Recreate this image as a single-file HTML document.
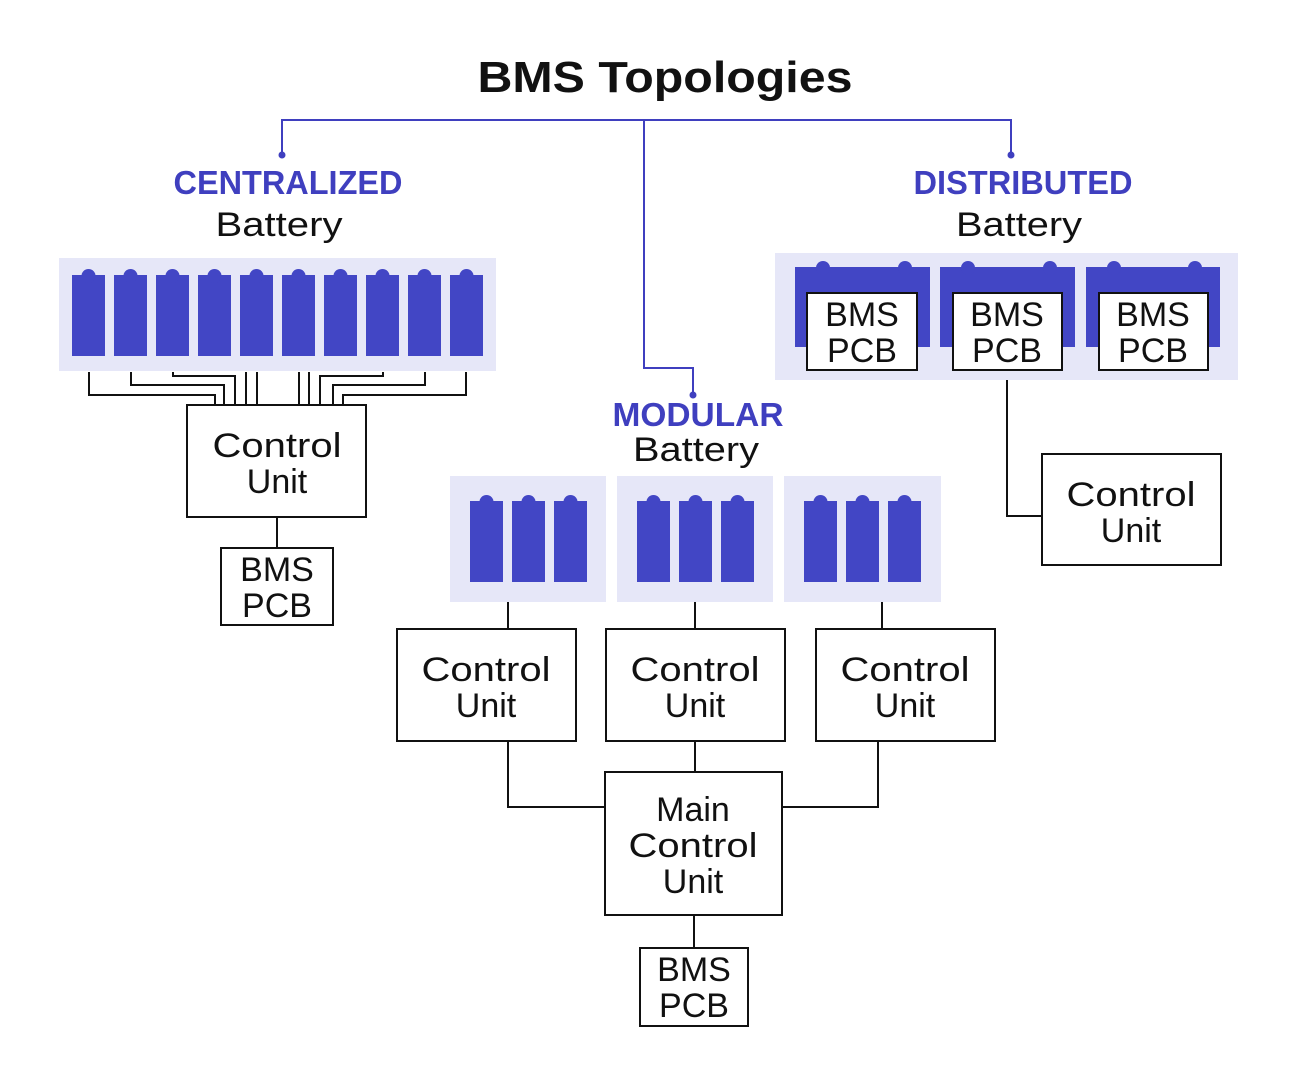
<!DOCTYPE html>
<html><head><meta charset="utf-8"><style>
html,body{margin:0;padding:0;background:#fff;}
svg{display:block;}
text{font-family:"Liberation Sans",sans-serif;}
.t{font-size:34px;fill:#111;text-anchor:middle;}
.b{font-size:33px;fill:#3f3fbf;text-anchor:middle;font-weight:bold;}
.box{fill:#fff;stroke:#111;stroke-width:2;}
.w{fill:none;stroke:#111;stroke-width:2;}
.bl{fill:none;stroke:#3f3fbf;stroke-width:2;}
</style></head><body>
<svg width="1295" height="1080" viewBox="0 0 1295 1080" xmlns="http://www.w3.org/2000/svg">
<defs>
<g id="cell"><rect x="0" y="0" width="33" height="81" fill="#4246c5"/><circle cx="16.5" cy="1" r="7" fill="#4246c5"/></g>
</defs>
<text x="665" y="92" font-size="44" font-weight="bold" text-anchor="middle" textLength="375" lengthAdjust="spacingAndGlyphs" fill="#111">BMS Topologies</text>
<path class="bl" d="M282 155V120H1011V155M644 120V368H693V395"/>
<circle cx="282" cy="155" r="3.5" fill="#3f3fbf"/><circle cx="1011" cy="155" r="3.5" fill="#3f3fbf"/><circle cx="693" cy="395" r="3.5" fill="#3f3fbf"/>
<text class="b" x="288" y="194" textLength="229" lengthAdjust="spacingAndGlyphs">CENTRALIZED</text>
<text class="t" x="279" y="236" textLength="127" lengthAdjust="spacingAndGlyphs">Battery</text>
<text class="b" x="1023" y="194" textLength="219" lengthAdjust="spacingAndGlyphs">DISTRIBUTED</text>
<text class="t" x="1019" y="236" textLength="126" lengthAdjust="spacingAndGlyphs">Battery</text>
<text class="b" x="698" y="426" textLength="171" lengthAdjust="spacingAndGlyphs">MODULAR</text>
<text class="t" x="696" y="461" textLength="126" lengthAdjust="spacingAndGlyphs">Battery</text>

<rect x="59" y="258" width="437" height="113" fill="#e6e7f8"/>
<use href="#cell" x="72" y="275"/><use href="#cell" x="114" y="275"/><use href="#cell" x="156" y="275"/><use href="#cell" x="198" y="275"/><use href="#cell" x="240" y="275"/><use href="#cell" x="282" y="275"/><use href="#cell" x="324" y="275"/><use href="#cell" x="366" y="275"/><use href="#cell" x="408" y="275"/><use href="#cell" x="450" y="275"/>
<path class="w" d="M89 372V395H215V405M131 372V385H224V405M173 372V376H235V405M246 372V405M257 372V405M299 372V405M309 372V405M383 372V376H320V405M425 372V385H333V405M466 372V395H343V405"/>
<rect class="box" x="187" y="405" width="179" height="112"/>
<text class="t" x="277" y="457" textLength="129" lengthAdjust="spacingAndGlyphs">Control</text><text class="t" x="277" y="493">Unit</text>
<path class="w" d="M277 517V548"/>
<rect class="box" x="221" y="548" width="112" height="77"/>
<text class="t" x="277" y="581">BMS</text><text class="t" x="277" y="617">PCB</text>

<rect x="775" y="253" width="463" height="127" fill="#e6e7f8"/>
<g fill="#4246c5">
<rect x="795" y="267" width="135" height="80"/><circle cx="823" cy="268" r="7"/><circle cx="905" cy="268" r="7"/>
<rect x="940" y="267" width="135" height="80"/><circle cx="968" cy="268" r="7"/><circle cx="1050" cy="268" r="7"/>
<rect x="1086" y="267" width="134" height="80"/><circle cx="1114" cy="268" r="7"/><circle cx="1195" cy="268" r="7"/>
</g>
<rect class="box" x="807" y="293" width="110" height="77"/><text class="t" x="862" y="326">BMS</text><text class="t" x="862" y="362">PCB</text>
<rect class="box" x="953" y="293" width="109" height="77"/><text class="t" x="1007" y="326">BMS</text><text class="t" x="1007" y="362">PCB</text>
<rect class="box" x="1099" y="293" width="109" height="77"/><text class="t" x="1153" y="326">BMS</text><text class="t" x="1153" y="362">PCB</text>
<path class="w" d="M1007 380V516H1042"/>
<rect class="box" x="1042" y="454" width="179" height="111"/>
<text class="t" x="1131" y="506" textLength="129" lengthAdjust="spacingAndGlyphs">Control</text><text class="t" x="1131" y="542">Unit</text>

<g fill="#e6e7f8"><rect x="450" y="476" width="156" height="126"/><rect x="617" y="476" width="156" height="126"/><rect x="784" y="476" width="157" height="126"/></g>
<use href="#cell" x="470" y="501"/><use href="#cell" x="512" y="501"/><use href="#cell" x="554" y="501"/>
<use href="#cell" x="637" y="501"/><use href="#cell" x="679" y="501"/><use href="#cell" x="721" y="501"/>
<use href="#cell" x="804" y="501"/><use href="#cell" x="846" y="501"/><use href="#cell" x="888" y="501"/>
<path class="w" d="M508 602V629M695 602V629M882 602V629M508 741V807H605M878 741V807H782M695 741V772M694 915V948"/>
<rect class="box" x="397" y="629" width="179" height="112"/><text class="t" x="486" y="681" textLength="129" lengthAdjust="spacingAndGlyphs">Control</text><text class="t" x="486" y="717">Unit</text>
<rect class="box" x="606" y="629" width="179" height="112"/><text class="t" x="695" y="681" textLength="129" lengthAdjust="spacingAndGlyphs">Control</text><text class="t" x="695" y="717">Unit</text>
<rect class="box" x="816" y="629" width="179" height="112"/><text class="t" x="905" y="681" textLength="129" lengthAdjust="spacingAndGlyphs">Control</text><text class="t" x="905" y="717">Unit</text>
<rect class="box" x="605" y="772" width="177" height="143"/>
<text class="t" x="693" y="821">Main</text><text class="t" x="693" y="857" textLength="129" lengthAdjust="spacingAndGlyphs">Control</text><text class="t" x="693" y="893">Unit</text>
<rect class="box" x="640" y="948" width="108" height="78"/><text class="t" x="694" y="981">BMS</text><text class="t" x="694" y="1017">PCB</text>
</svg>
</body></html>
